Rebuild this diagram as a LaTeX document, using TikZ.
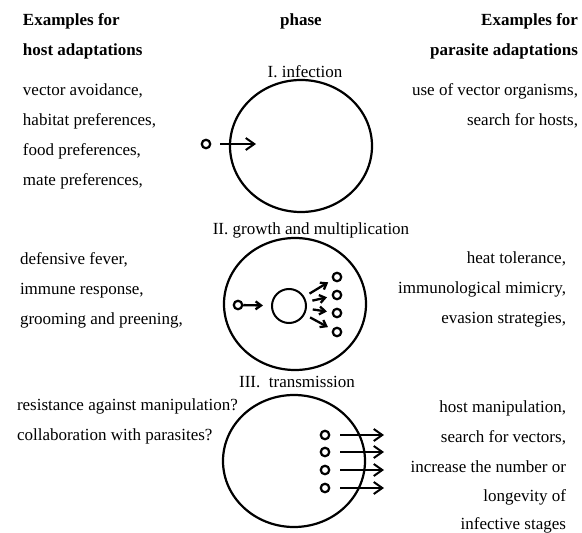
\documentclass[tikz,border=0pt]{standalone}
\usepackage{fontspec}
\setmainfont{Liberation Serif}
\usetikzlibrary{arrows.meta,shapes.geometric}

\begin{document}
\begin{tikzpicture}[
    x=1pt,y=-1pt,
    every node/.style={inner sep=0pt,outer sep=0pt},
    txt/.style={font=\fontsize{17}{20}\selectfont},
    head/.style={font=\fontsize{17}{20}\selectfont\bfseries},
    hostcol/.style={txt,anchor=base west},
    paracol/.style={txt,anchor=base east},
    phaselabel/.style={txt,anchor=base},
    phasecell/.style={ellipse,draw,line width=2.2pt,minimum width=142pt,minimum height=132pt},
    stage/.style={circle,draw,line width=2.2pt,minimum size=8.5pt},
    core/.style={circle,draw,line width=2pt,minimum size=34pt},
    move/.style={-{Straight Barb[length=8.5pt,width=12pt]},line width=2pt},
    split/.style={-{Straight Barb[length=5.5pt,width=8pt]},line width=2.3pt,
      shorten <=7pt,shorten >=6pt}
  ]
    \useasboundingbox (0,0) rectangle (582,533);

    % column heads
    \node[head,anchor=base west] (hosthead1) at (23,25) {Examples for};
    \node[head,anchor=base west] (hosthead2) at (23,55) {host adaptations};
    \node[head,anchor=base] (phasehead) at (301,25) {phase};
    \node[head,anchor=base east] (parahead1) at (578,25) {Examples for};
    \node[head,anchor=base east] (parahead2) at (578,55) {parasite adaptations};

    % I. infection
    \node[phaselabel] (inflabel) at (305,77) {I. infection};
    \node[phasecell] (infcell) at (301,146) {};
    \node[stage] (infsrc) at (206,144) {};
    \coordinate (inftip) at (256,144);
    \draw[move,shorten <=10pt] (infsrc) -- (inftip);
    \node[hostcol] (infhost1) at (23,95) {vector avoidance,};
    \node[hostcol] (infhost2) at (23,125) {habitat preferences,};
    \node[hostcol] (infhost3) at (23,155) {food preferences,};
    \node[hostcol] (infhost4) at (23,185) {mate preferences,};
    \node[paracol] (infpara1) at (578,95) {use of vector organisms,};
    \node[paracol] (infpara2) at (578,125) {search for hosts,};

    % II. growth and multiplication
    \node[phaselabel] (growlabel) at (311,234) {II. growth and multiplication};
    \node[phasecell] (growcell) at (295,304) {};
    \node[stage] (growsrc) at (238,305) {};
    \node[core] (growcore) at (289,306) {};
    \draw[split,shorten <=1pt,shorten >=9pt] (growsrc) -- (growcore);
    \foreach \k/\yy in {1/277,2/295,3/313,4/332} {
      \node[stage] (kid\k) at (337,\yy) {};
      \draw[split] (growcore) -- (kid\k);
    }
    \node[hostcol] (growhost1) at (20,264) {defensive fever,};
    \node[hostcol] (growhost2) at (20,294) {immune response,};
    \node[hostcol] (growhost3) at (20,324) {grooming and preening,};
    \node[paracol] (growpara1) at (566,263) {heat tolerance,};
    \node[paracol] (growpara2) at (566,293) {immunological mimicry,};
    \node[paracol] (growpara3) at (566,323) {evasion strategies,};

    % III. transmission
    \node[phaselabel] (translabel) at (297,387) {III.\ \ transmission};
    \node[phasecell] (transcell) at (294,461) {};
    \foreach \k/\yy in {1/435,2/452,3/470,4/488} {
      \node[stage] (out\k) at (325,\yy) {};
      \coordinate (outtip\k) at (384,\yy);
      \draw[move,shorten <=11pt] (out\k) -- (outtip\k);
    }
    \node[hostcol] (transhost1) at (17,410) {resistance against manipulation?};
    \node[hostcol] (transhost2) at (17,440) {collaboration with parasites?};
    \node[paracol] (transpara1) at (566,412) {host manipulation,};
    \node[paracol] (transpara2) at (566,442) {search for vectors,};
    \node[paracol] (transpara3) at (566,472) {increase the number or};
    \node[paracol] (transpara4) at (566,501) {longevity of};
    \node[paracol] (transpara5) at (566,529) {infective stages};
  \end{tikzpicture}
\end{document}
